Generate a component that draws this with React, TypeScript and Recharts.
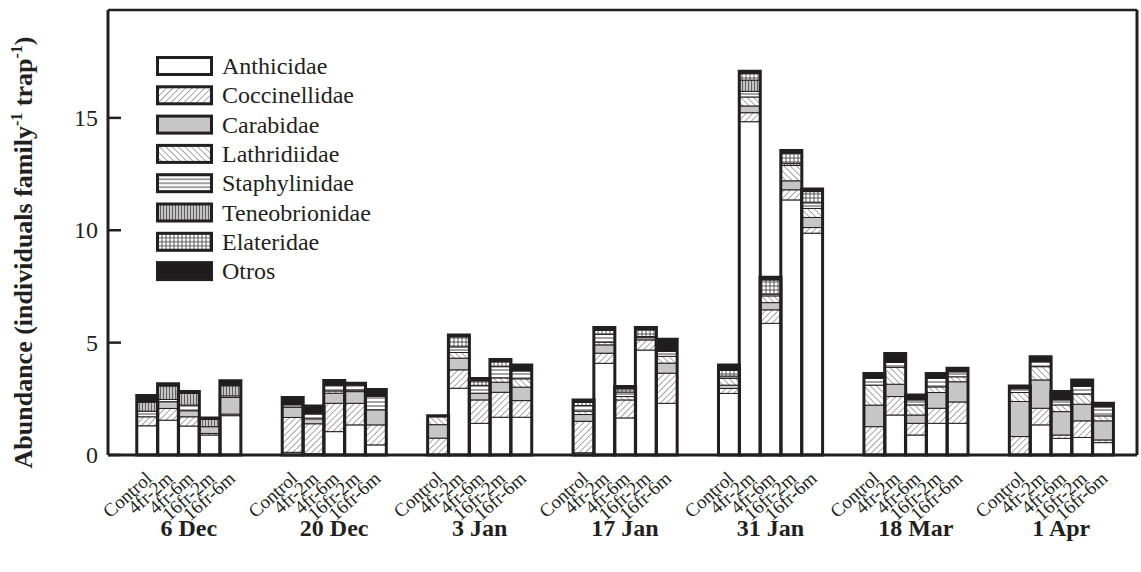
import { BarChart, Bar, XAxis, YAxis } from 'recharts'

const dates = ['6 Dec', '20 Dec', '3 Jan', '17 Jan', '31 Jan', '18 Mar', '1 Apr']
const treatments = ['Control', '4fr-2m', '4fr-6m', '16fr-2m', '16fr-6m']
const families = ['Anthicidae', 'Coccinellidae', 'Carabidae', 'Lathridiidae', 'Staphylinidae', 'Teneobrionidae', 'Elateridae', 'Otros']
const yTicks = [0, 5, 10, 15]

// one value per bar, date by date, treatments in the order above
const anthicidae = [
  1.3, 1.55, 1.29, 0.89, 1.75,
  0.12, 0.05, 1.04, 1.34, 0.45,
  0, 2.97, 1.41, 1.68, 1.68,
  0.1, 4.08, 1.65, 4.67, 2.3,
  2.74, 14.83, 5.86, 11.35, 9.87,
  0, 1.78, 0.89, 1.41, 1.41,
  0, 1.34, 0.74, 0.78, 0.55,
]
const coccinellidae = [
  0.4, 0.52, 0.41, 0.07, 0.07,
  1.55, 1.34, 1.26, 0.96, 0.89,
  0.75, 0.82, 1.04, 1.11, 0.74,
  1.4, 0.45, 0.8, 0.45, 1.34,
  0.22, 0.4, 0.6, 0.45, 0.25,
  1.26, 0.82, 0.52, 0.67, 0.95,
  0.82, 0.74, 0.15, 0.74, 0.12,
]
const carabidae = [
  0, 0.3, 0.27, 0.3, 0.74,
  0.45, 0.22, 0.45, 0.52, 0.67,
  0.6, 0.52, 0.3, 0.45, 0.6,
  0.3, 0.37, 0, 0.1, 0.45,
  0.15, 0.3, 0.32, 0.4, 0.45,
  0.96, 0.55, 0.37, 0.7, 0.9,
  1.56, 1.26, 1.04, 0.74, 0.85,
]
const lathridiidae = [
  0, 0, 0, 0, 0,
  0, 0, 0.1, 0.07, 0,
  0.35, 0.25, 0, 0.19, 0.37,
  0.15, 0.12, 0.15, 0.05, 0.3,
  0.3, 0.4, 0.3, 0.68, 0.4,
  0.89, 0.75, 0.45, 0.25, 0.22,
  0.4, 0.59, 0.3, 0.45, 0.22,
]
const staphylinidae = [
  0.25, 0.1, 0.25, 0, 0.07,
  0.12, 0.22, 0.25, 0.22, 0.6,
  0, 0.25, 0.35, 0.5, 0.35,
  0.25, 0.35, 0.2, 0, 0.22,
  0.1, 0.25, 0.08, 0, 0.25,
  0.3, 0.22, 0.22, 0.38, 0.22,
  0.17, 0.22, 0.22, 0.35, 0.4,
]
const teneobrionidae = [
  0.4, 0.6, 0.52, 0.32, 0.45,
  0, 0, 0, 0, 0,
  0, 0, 0, 0, 0,
  0, 0, 0, 0, 0,
  0, 0.5, 0, 0.1, 0,
  0, 0, 0, 0, 0,
  0, 0, 0, 0, 0,
]
const elateridae = [
  0, 0, 0, 0, 0,
  0, 0, 0, 0, 0,
  0, 0.45, 0.2, 0.22, 0,
  0.15, 0.18, 0.15, 0.3, 0,
  0.25, 0.3, 0.63, 0.45, 0.5,
  0, 0, 0, 0, 0,
  0, 0, 0, 0, 0,
]
const otros = [
  0.3, 0.1, 0.08, 0.07, 0.22,
  0.32, 0.35, 0.22, 0.08, 0.3,
  0.05, 0.08, 0.1, 0.1, 0.26,
  0.1, 0.12, 0.1, 0.1, 0.54,
  0.24, 0.09, 0.12, 0.12, 0.12,
  0.22, 0.4, 0.22, 0.22, 0.16,
  0.12, 0.22, 0.37, 0.28, 0.16,
]

const seriesByFamily = [anthicidae, coccinellidae, carabidae, lathridiidae, staphylinidae, teneobrionidae, elateridae, otros]
const fills = ['#ffffff', 'url(#p-cocc)', '#c6c6c6', 'url(#p-lath)', 'url(#p-staph)', 'url(#p-teneb)', 'url(#p-elat)', '#1e1c1d']

type Row = Record<string, string | number>
const rows: Row[] = []
dates.forEach((date, d) => {
  rows.push({ key: `${date}-a`, treatment: '', date: '' })
  treatments.forEach((t, i) => {
    const row: Row = { key: `${date}-${t}`, treatment: t, date: i === 2 ? date : '' }
    let total = 0
    families.forEach((f, k) => {
      const v = seriesByFamily[k][d * 5 + i]
      row[f] = v
      total += v
    })
    row.total = total
    rows.push(row)
  })
  rows.push({ key: `${date}-b`, treatment: '', date: '' })
})

const ink = '#231f20'
const serif = "'Liberation Serif', 'Times New Roman', serif"

function CategoryTick(props: any) {
  const { x, y, payload } = props
  const row = rows.find((r) => r.key === payload.value)
  if (!row || !row.treatment) return <g />
  return (
    <g>
      <text transform={`translate(${x + 6},${y + 25}) rotate(-42)`} textAnchor="end" fontSize={19} fontFamily={serif} fill={ink}>
        {row.treatment}
      </text>
      {row.date ? (
        <text x={x} y={y + 81} textAnchor="middle" fontSize={24} fontWeight="bold" fontFamily={serif} fill={ink}>
          {row.date}
        </text>
      ) : null}
    </g>
  )
}

function ValueTick(props: any) {
  const { x, y, payload } = props
  return (
    <g>
      <line x1={x + 10} x2={x + 23} y1={y} y2={y} stroke={ink} strokeWidth={2.5} />
      <text x={x} y={y} dy={8} textAnchor="end" fontSize={24} fontFamily={serif} fill={ink}>
        {payload.value}
      </text>
    </g>
  )
}

function YTitle(props: any) {
  const vb = props.viewBox
  const cx = vb.x - 6
  const cy = vb.y + vb.height / 2 + 20
  return (
    <text transform={`translate(${cx},${cy}) rotate(-90)`} textAnchor="middle" fontSize={26} fontWeight="bold" fontFamily={serif} fill={ink}>
      Abundance (individuals family<tspan dy={-10} fontSize={16}>-1</tspan>
      <tspan dy={10}> trap</tspan>
      <tspan dy={-10} fontSize={16}>-1</tspan>
      <tspan dy={10}>)</tspan>
    </text>
  )
}

function Patterns() {
  return (
    <defs>
      <pattern id="p-cocc" width="4.5" height="4.5" patternUnits="userSpaceOnUse" patternTransform="rotate(45)">
        <rect width="4.5" height="4.5" fill="#fff" />
        <line x1="0" y1="0" x2="0" y2="4.5" stroke="#6a6a6a" strokeWidth="1.2" />
      </pattern>
      <pattern id="p-lath" width="4.5" height="4.5" patternUnits="userSpaceOnUse" patternTransform="rotate(-45)">
        <rect width="4.5" height="4.5" fill="#fff" />
        <line x1="0" y1="0" x2="0" y2="4.5" stroke="#6a6a6a" strokeWidth="1.2" />
      </pattern>
      <pattern id="p-staph" width="4" height="4" patternUnits="userSpaceOnUse">
        <rect width="4" height="4" fill="#fff" />
        <line x1="0" y1="2" x2="4" y2="2" stroke="#444" strokeWidth="1" />
      </pattern>
      <pattern id="p-teneb" width="3" height="3" patternUnits="userSpaceOnUse">
        <rect width="3" height="3" fill="#c4c4c4" />
        <line x1="1.5" y1="0" x2="1.5" y2="3" stroke="#555" strokeWidth="0.9" />
      </pattern>
      <pattern id="p-elat" width="4" height="4" patternUnits="userSpaceOnUse">
        <rect width="4" height="4" fill="#fff" />
        <line x1="2" y1="0" x2="2" y2="4" stroke="#444" strokeWidth="0.9" />
        <line x1="0" y1="2" x2="4" y2="2" stroke="#444" strokeWidth="0.9" />
      </pattern>
    </defs>
  )
}

function FamilyLegend() {
  return (
    <div style={{ position: 'absolute', left: 156, top: 44 }}>
      <svg width={400} height={256}>
        {families.map((f, i) => (
          <g key={f} transform={`translate(0,${12 + i * 29.3})`}>
            <rect x={1.5} y={1.5} width={54} height={17} fill={fills[i]} stroke={ink} strokeWidth={3} />
            <text x={66} y={18} fontSize={24} fontFamily={serif} fill={ink}>
              {f}
            </text>
          </g>
        ))}
      </svg>
    </div>
  )
}

export default function App() {
  return (
    <div style={{ position: 'relative', width: 1141, height: 572, overflow: 'hidden', background: '#fff' }}>
      <style>{'body { margin: 0; }'}</style>
      <BarChart width={1141} height={572} data={rows} margin={{ top: 9, right: 3, bottom: 7, left: 38 }} barCategoryGap={0} barGap={0}>
        <Patterns />
        <XAxis
          dataKey="key"
          interval={0}
          padding={{ left: 8, right: 3 }}
          height={110}
          tickSize={0}
          tickMargin={0}
          tickLine={false}
          tick={<CategoryTick />}
          axisLine={{ stroke: ink, strokeWidth: 3 }}
        />
        <XAxis xAxisId="outline" dataKey="key" hide padding={{ left: 8, right: 3 }} />
        <XAxis xAxisId="top" orientation="top" dataKey="key" height={1} tick={false} tickLine={false} axisLine={{ stroke: ink, strokeWidth: 2.5 }} />
        <YAxis
          domain={[0, 19.8]}
          ticks={yTicks}
          width={70}
          tickSize={0}
          tickMargin={10}
          tickLine={false}
          tick={<ValueTick />}
          axisLine={{ stroke: ink, strokeWidth: 3 }}
          label={YTitle}
        />
        <YAxis yAxisId="right" orientation="right" domain={[0, 19.8]} width={1} tick={false} tickLine={false} axisLine={{ stroke: ink, strokeWidth: 3 }} />
        {families.map((f, i) => (
          <Bar key={f} dataKey={f} stackId="a" fill={fills[i]} stroke={ink} strokeWidth={1} isAnimationActive={false} />
        ))}
        <Bar xAxisId="outline" dataKey="total" fill="none" stroke={ink} strokeWidth={3} isAnimationActive={false} />
      </BarChart>
      <FamilyLegend />
    </div>
  )
}
